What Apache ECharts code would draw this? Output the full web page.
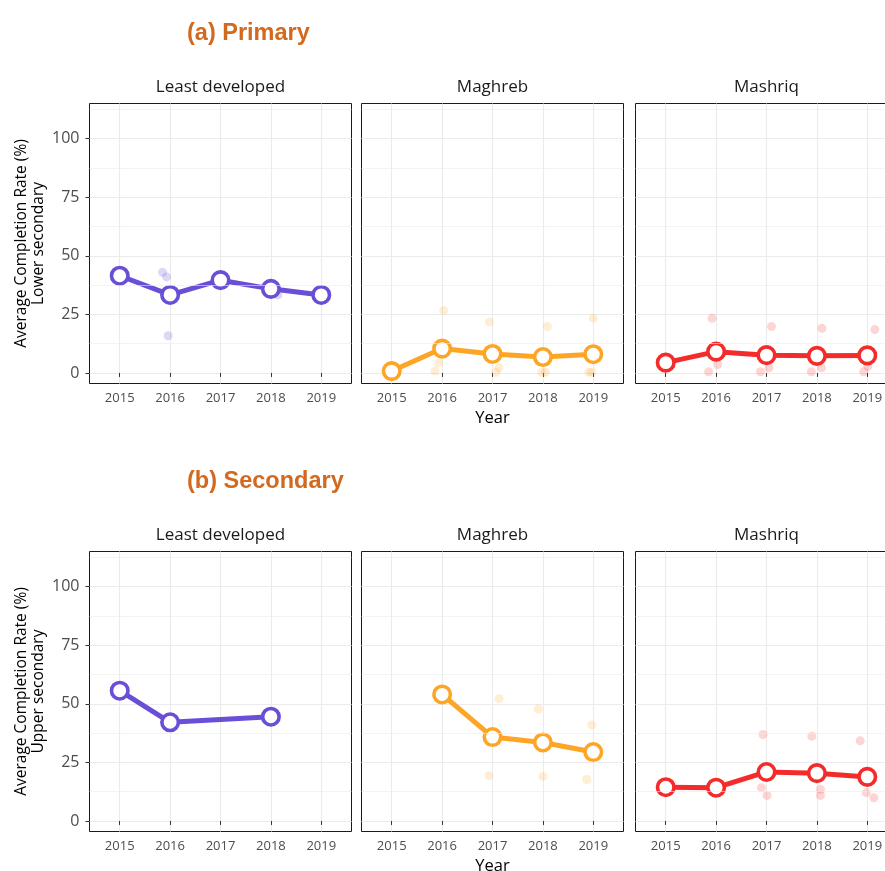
<!DOCTYPE html>
<html>
<head>
<meta charset="utf-8">
<script src="https://cdn.jsdelivr.net/npm/echarts@6/dist/echarts.min.js"></script>
<style>html,body{margin:0;padding:0;background:#fff}#c{width:885px;height:871px}</style>
</head>
<body>
<div id="c"></div>
<script>
// ---- data ----
const years = [2015, 2016, 2017, 2018, 2019];
const yTicks = [0, 25, 50, 75, 100];
const regions = ['Least developed', 'Maghreb', 'Mashriq'];
const rowTitles = ['(a) Primary', '(b) Secondary'];
const rowLevels = ['Lower secondary', 'Upper secondary'];

// averages (line)
const ldcLower = [41.5, 33.3, 39.6, 35.9, 33.3];
const maghrebLower = [0.8, 10.4, 8.1, 6.8, 8.0];
const mashriqLower = [4.4, 9.1, 7.6, 7.3, 7.5];
const ldcUpper = [55.6, 42.1, null, 44.5, null];
const maghrebUpper = [null, 54.0, 35.8, 33.5, 29.4];
const mashriqUpper = [14.4, 14.2, 20.9, 20.4, 18.8];

// individual country values (jittered year, value)
const ldcLowerPts = [[2015.85, 43.0], [2015.93, 41.0], [2015.96, 15.9], [2018.14, 33.3]];
const maghrebLowerPts = [[2016.03, 26.7], [2015.93, 4.3], [2015.86, 0.8], [2016.94, 21.7], [2017.13, 2.2], [2017.07, 0.3],
  [2018.09, 19.8], [2017.98, 0.2], [2018.05, 0.3], [2019.0, 23.4], [2018.91, 0.3], [2018.97, 0.4]];
const mashriqLowerPts = [[2015.92, 23.3], [2016.03, 3.6], [2015.85, 0.5], [2017.1, 19.8], [2017.05, 2.2], [2016.88, 0.5],
  [2018.1, 19.1], [2018.09, 2.2], [2017.89, 0.5], [2019.15, 18.5], [2019.01, 2.8], [2018.93, 0.5]];
const ldcUpperPts = [];
const maghrebUpperPts = [[2017.13, 52.2], [2016.93, 19.3], [2017.91, 47.8], [2018.0, 19.0], [2018.97, 41.0], [2018.87, 17.7]];
const mashriqUpperPts = [[2016.93, 36.9], [2016.9, 14.2], [2017.01, 10.9], [2017.9, 36.2], [2018.07, 13.5], [2018.07, 10.9],
  [2018.86, 34.2], [2018.98, 12.1], [2019.13, 9.9]];
const minorY = [12.5, 37.5, 62.5, 87.5, 112.5];

// ---- layout / style ----
const lines = [[ldcLower, maghrebLower, mashriqLower], [ldcUpper, maghrebUpper, mashriqUpper]];
const pts = [[ldcLowerPts, maghrebLowerPts, mashriqLowerPts], [ldcUpperPts, maghrebUpperPts, mashriqUpperPts]];
const colors = ['#6A4FD6', '#FFA526', '#F42B2B'];
const fadeColors = ['rgba(106,79,214,0.28)', 'rgba(255,165,38,0.25)', 'rgba(244,43,43,0.25)'];
const colLeft = [89.5, 361.5, 635.5];
const panelW = 262;
const rowTop = [103.5, 551.5];
const panelH = 280;
const FONT = '"Open Sans", "Noto Sans", sans-serif';

const grid = [], xAxis = [], yAxis = [], series = [], graphic = [];
for (let r = 0; r < 2; r++) {
  for (let c = 0; c < 3; c++) {
    const gi = r * 3 + c;
    grid.push({left: colLeft[c], top: rowTop[r], width: panelW, height: panelH, outerBoundsMode: 'none',
      show: true, borderColor: '#1a1a1a', borderWidth: 1, backgroundColor: '#fff', containLabel: false});
    xAxis.push({type: 'value', gridIndex: gi, min: 2014.4, max: 2019.6,
      axisLine: {show: false},
      axisTick: {show: true, customValues: years, length: 4, lineStyle: {color: '#333', width: 1}},
      axisLabel: {show: true, customValues: years, formatter: v => String(v), color: '#4d4d4d', fontSize: 13, margin: 8, fontFamily: FONT},
      splitLine: {show: true, lineStyle: {color: '#ebebeb', width: 1.1}}
    });
    yAxis.push({type: 'value', gridIndex: gi, min: -4.5, max: 115,
      axisLine: {show: false},
      axisTick: {show: c === 0, customValues: yTicks, length: 4, lineStyle: {color: '#333', width: 1}},
      axisLabel: {show: c === 0, customValues: yTicks, color: '#4d4d4d', fontSize: 16, margin: 10, fontFamily: FONT},
      splitLine: {show: true, lineStyle: {color: '#ebebeb', width: 1.1}}
    });
    // minor grid lines
    series.push({type: 'scatter', xAxisIndex: gi, yAxisIndex: gi, data: [], silent: true, z: 1,
      markLine: {silent: true, symbol: 'none', animation: false, label: {show: false},
        lineStyle: {color: '#ebebeb', width: 0.6, type: 'solid'},
        data: minorY.map(v => ({yAxis: v}))}
    });
    series.push({type: 'scatter', xAxisIndex: gi, yAxisIndex: gi, z: 2, silent: true,
      symbolSize: 9, itemStyle: {color: fadeColors[c]}, data: pts[r][c]});
    series.push({type: 'line', xAxisIndex: gi, yAxisIndex: gi, z: 3, connectNulls: true,
      data: years.map((y, i) => [y, lines[r][c][i]]).filter(d => d[1] !== null),
      symbol: 'circle', symbolSize: 16.5, showAllSymbol: true,
      lineStyle: {color: colors[c], width: 5},
      itemStyle: {color: '#fff', borderColor: colors[c], borderWidth: 3.6}
    });
    // strip label
    graphic.push({type: 'text', x: colLeft[c] + panelW / 2, y: rowTop[r] - 16,
      style: {text: regions[c], align: 'center', verticalAlign: 'middle', font: '17px ' + FONT, fill: '#1a1a1a'}});
  }
  graphic.push({type: 'text', x: 187, y: rowTop[r] - 70,
    style: {text: rowTitles[r], align: 'left', verticalAlign: 'middle', font: 'bold 23.5px "Liberation Sans", Arial, sans-serif', fill: '#D2691E'}});
  graphic.push({type: 'text', x: 30, y: rowTop[r] + panelH / 2, rotation: Math.PI / 2,
    style: {text: 'Average Completion Rate (%)\n' + rowLevels[r], align: 'center', verticalAlign: 'middle',
      font: '15.5px ' + FONT, lineHeight: 16.6, fill: '#000'}});
  graphic.push({type: 'text', x: colLeft[1] + panelW / 2, y: rowTop[r] + panelH + 35,
    style: {text: 'Year', align: 'center', verticalAlign: 'middle', font: '16.5px ' + FONT, fill: '#000'}});
}

const chart = echarts.init(document.getElementById('c'), null, {renderer: 'canvas'});
chart.setOption({animation: false, backgroundColor: '#fff', grid, xAxis, yAxis, series, graphic});
</script>
</body>
</html>
